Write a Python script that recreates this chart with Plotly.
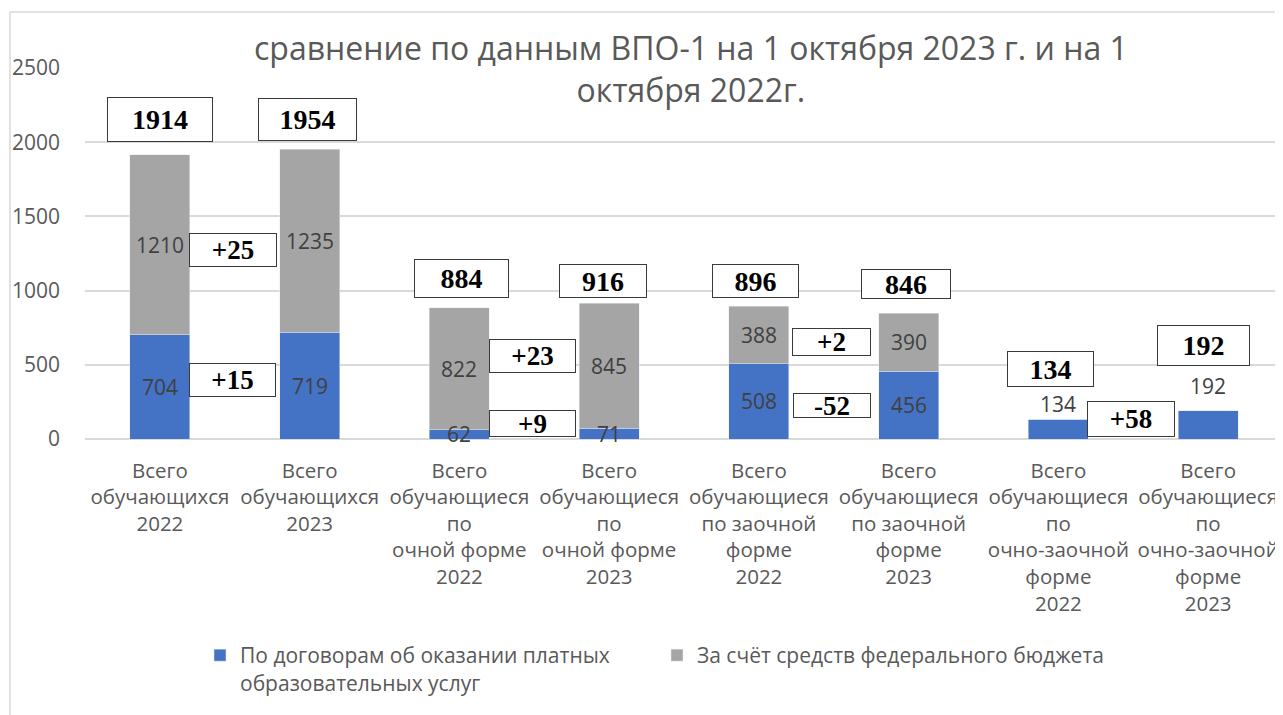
import plotly.graph_objects as go

categories = [
    "Всего<br>обучающихся<br>2022",
    "Всего<br>обучающихся<br>2023",
    "Всего<br>обучающиеся<br>по<br>очной форме<br>2022",
    "Всего<br>обучающиеся<br>по<br>очной форме<br>2023",
    "Всего<br>обучающиеся<br>по заочной<br>форме<br>2022",
    "Всего<br>обучающиеся<br>по заочной<br>форме<br>2023",
    "Всего<br>обучающиеся<br>по<br>очно-заочной<br>форме<br>2022",
    "Всего<br>обучающиеся<br>по<br>очно-заочной<br>форме<br>2023",
]
paid = [704, 719, 62, 71, 508, 456, 134, 192]
federal = [1210, 1235, 822, 845, 388, 390, 0, 0]
paid_name = "По договорам об оказании платных<br>образовательных услуг"
federal_name = "За счёт средств федерального бюджета"
title_text = "сравнение по данным ВПО-1 на 1 октября 2023 г. и на 1<br>октября 2022г."

totals = [p + f for p, f in zip(paid, federal)]

# ---- style / placement tweaks (pixels) ----
total_yshift = [35, 30, 29, 22, 25, 29, 50, 65]
total_xshift = [0, -2, 2, -6, -3, -3, -8, -5]
total_w = [104, 97, 93, 86, 85, 88, 85, 91]
total_h = [43, 41, 37, 32, 32, 28, 34, 39]
fed_diff_yshift = [-5, 13, -7]
fed_diff_w = [86, 85, 77]
fed_diff_h = [32, 32, 26]
paid_diff_yshift = [7, 11, -4, 10]
paid_diff_w = [85, 85, 76, 86]
paid_diff_h = [32, 25, 23, 34]
top_label_yshift = [15, 25]

BLUE = "#4472C4"
GRAY = "#A5A5A5"
TXT = "#595959"
LBL = "#404040"
W, H = 1275, 707
ML, MR, MT, MB = 77, 0, 60, 276
plot_w = W - ML - MR
plot_h = H - MT - MB

fig = go.Figure()
fig.add_trace(go.Bar(x=categories, y=paid, name=paid_name, marker_color=BLUE))
fig.add_trace(go.Bar(x=categories, y=federal, name=federal_name, marker_color=GRAY))

ann = []
sans = "Open Sans, Liberation Sans, sans-serif"
serif = "Liberation Serif, Times New Roman, serif"

# segment labels
k_top = 0
for i, (p, f) in enumerate(zip(paid, federal)):
    if f > 0:
        ann.append(dict(x=i, y=p / 2, text=str(p), showarrow=False,
                        font=dict(family=sans, size=21, color=LBL)))
        ann.append(dict(x=i, y=p + f / 2, text=str(f), showarrow=False,
                        font=dict(family=sans, size=21, color=LBL)))
    else:
        ann.append(dict(x=i, y=p, text=str(p), showarrow=False,
                        yshift=top_label_yshift[k_top],
                        font=dict(family=sans, size=21, color=LBL)))
        k_top += 1

box = dict(showarrow=False, bgcolor="white", bordercolor="#3A3A3A",
           borderwidth=1, borderpad=0)
# totals boxes
for i, t in enumerate(totals):
    ann.append(dict(x=i, y=t, text="<b>%d</b>" % t, yshift=total_yshift[i],
                    xshift=total_xshift[i], width=total_w[i], height=total_h[i],
                    font=dict(family=serif, size=28, color="black"), **box))
# diff boxes between 2022 and 2023
k_f = 0
k_p = 0
for i in range(0, len(categories), 2):
    df = federal[i + 1] - federal[i]
    dp = paid[i + 1] - paid[i]
    if federal[i] > 0:
        ann.append(dict(x=i + 0.5, y=paid[i] + federal[i] / 2, text="<b>%+d</b>" % df,
                        yshift=fed_diff_yshift[k_f], xshift=-2,
                        width=fed_diff_w[k_f], height=fed_diff_h[k_f],
                        font=dict(family=serif, size=27, color="black"), **box))
        k_f += 1
    ann.append(dict(x=i + 0.5, y=paid[i] / 2, text="<b>%+d</b>" % dp,
                    yshift=paid_diff_yshift[k_p], xshift=-2,
                    width=paid_diff_w[k_p], height=paid_diff_h[k_p],
                    font=dict(family=serif, size=27, color="black"), **box))
    k_p += 1

# chart title
ann.append(dict(text=title_text, xref="paper", yref="paper",
                x=(683 - ML) / plot_w, y=1 + (MT - 60.5) / plot_h,
                xanchor="center", yanchor="middle", showarrow=False,
                font=dict(family=sans, size=32, color=TXT)))

# chart-area border
fig.add_shape(type="rect", xref="paper", yref="paper",
              x0=(2 - ML) / plot_w, x1=(W + 5 - ML) / plot_w,
              y0=-(H + 5 - MT - plot_h) / plot_h, y1=1 + (MT - 4) / plot_h,
              line=dict(color="#D9D9D9", width=1.5), layer="below")

fig.update_layout(
    width=W, height=H,
    margin=dict(l=ML, r=MR, t=MT, b=MB, autoexpand=False),
    paper_bgcolor="white", plot_bgcolor="white",
    barmode="stack", bargap=0.6,
    annotations=ann,
    showlegend=True,
    legend=dict(orientation="h", x=(192 - ML) / plot_w, xanchor="left",
                y=(H - MB - 627) / plot_h, yanchor="top",
                font=dict(family=sans, size=21, color=TXT),
                traceorder="normal", itemwidth=30, entrywidth=412,
                valign="top"),
    font=dict(family=sans),
)
fig.update_yaxes(range=[0, 2500], dtick=500, showgrid=True, gridcolor="#D9D9D9", gridwidth=1.5,
                 zeroline=True, zerolinecolor="#D9D9D9", zerolinewidth=1.5,
                 tickfont=dict(family=sans, size=21, color=TXT), ticklabelstandoff=24,
                 automargin=False)
fig.update_xaxes(showgrid=False, showline=False, tickfont=dict(family=sans, size=20.5, color=TXT),
                 tickangle=0, ticklabelstandoff=17, automargin=False)

fig.write_html("out.html")
